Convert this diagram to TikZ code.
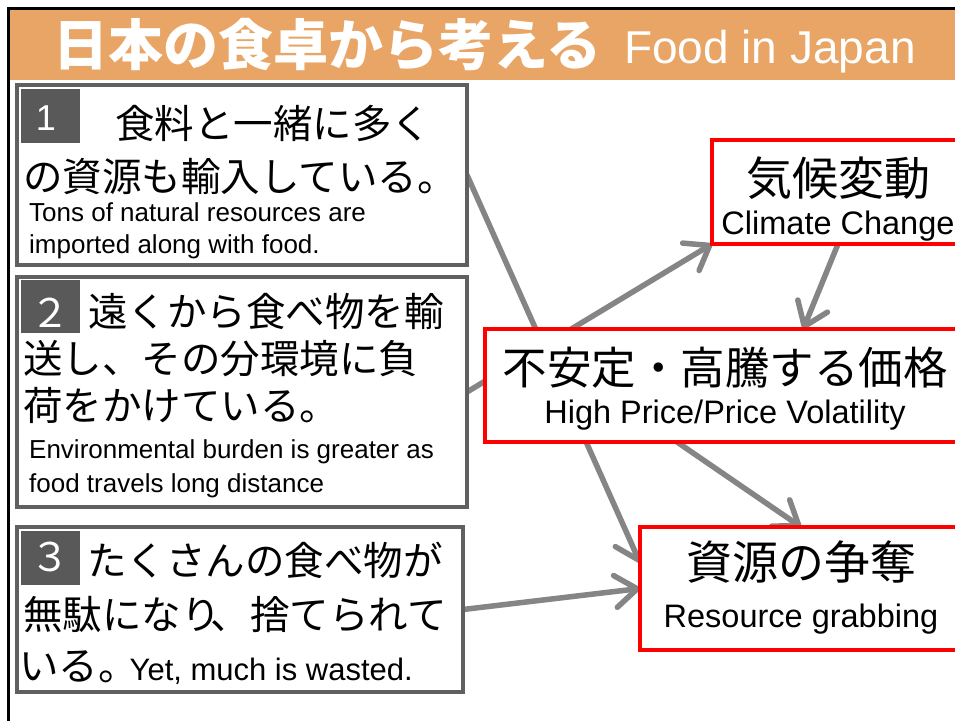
\documentclass[tikz,border=0pt]{standalone}
\usepackage{fontspec}
\setmainfont{Liberation Sans}
\newfontfamily\jp{Noto Sans CJK JP}
\usetikzlibrary{arrows.meta,calc}
\definecolor{bandorange}{HTML}{E8A565}
\definecolor{boxgrey}{HTML}{606060}
\definecolor{numgrey}{HTML}{595959}
\definecolor{arrgrey}{HTML}{858585}
\pgfdeclarelayer{bg}
\pgfdeclarelayer{paper}
\pgfsetlayers{paper,bg,main}
\tikzset{
  leftbox/.style={draw=boxgrey, line width=3.5pt, fill=white, inner sep=0pt, outer sep=0pt, anchor=north west},
  redbox/.style={draw=red, line width=3.5pt, fill=white, inner sep=0pt, outer sep=0pt, anchor=north west},
  numblk/.style={fill=numgrey, inner sep=0pt, outer sep=0pt, anchor=north west},
  numtxt/.style={text=white, inner sep=0pt, anchor=center},
  jtxt/.style={font=\jp\fontsize{39.5}{42}\selectfont, inner sep=0pt, anchor=base west},
  etxt/.style={font=\fontsize{26}{28}\selectfont, inner sep=0pt, anchor=base west},
  rjtxt/.style={font=\jp\fontsize{46}{48}\selectfont, inner sep=0pt, anchor=base},
  retxt/.style={font=\fontsize{32.5}{34}\selectfont, inner sep=0pt, anchor=base},
  flow/.style={draw=arrgrey, line width=5.5pt, -{Straight Barb[round,length=22pt,width=32pt]}}
}
\begin{document}
\begin{tikzpicture}[x=1pt,y=-1pt]
\useasboundingbox (0,0) rectangle (955,720);
\begin{pgfonlayer}{paper}
\fill[white] (0,0) rectangle (955,720);
\end{pgfonlayer}
\clip (0,0) rectangle (955,720);
% header band and frame
\fill[bandorange] (9,9) rectangle (960,80);
\draw[line width=3pt] (8,725) -- (8,8) -- (960,8);
\node[font=\jp\bfseries\fontsize{55}{60}\selectfont, text=white, anchor=base west, inner sep=0pt] (title) at (53,65) {日本の食卓から考える};
\node[font=\fontsize{46}{50}\selectfont, text=white, anchor=base west, inner sep=0pt] (titleen) at (624,63) {Food in Japan};
% left boxes
\node[leftbox, minimum width=450pt, minimum height=180pt] (b1) at (17,85) {};
\node[leftbox, minimum width=450pt, minimum height=230pt] (b2) at (17,277) {};
\node[leftbox, minimum width=446pt, minimum height=165pt] (b3) at (17,527) {};
\node[numblk, minimum width=59pt, minimum height=54pt] (n1) at (21,89) {};
\node[numblk, minimum width=59pt, minimum height=53pt] (n2) at (21,280) {};
\node[numblk, minimum width=59pt, minimum height=54pt] (n3) at (21,531) {};
\node[numtxt, font=\fontsize{36}{38}\selectfont] (n1t) at (46,118) {1};
\node[numtxt, font=\jp\fontsize{39.5}{42}\selectfont] (n2t) at (50,313) {２};
\node[numtxt, font=\jp\fontsize{39.5}{42}\selectfont] (n3t) at (50,557) {３};
% box 1 text
\node[jtxt] (b1l1) at (115,138) {食料と一緒に多く};
\node[jtxt] (b1l2) at (23,191) {の資源も輸入している。};
\node[etxt] (b1l3) at (29,221) {Tons of natural resources are};
\node[etxt] (b1l4) at (29,253) {imported along with food.};
% box 2 text
\node[jtxt] (b2l1) at (88,326) {遠くから食べ物を輸};
\node[jtxt] (b2l2) at (23,373) {送し、その分環境に負};
\node[jtxt] (b2l3) at (23,420) {荷をかけている。};
\node[etxt] (b2l4) at (29,458) {Environmental burden is greater as};
\node[etxt] (b2l5) at (29,492) {food travels long distance};
% box 3 text
\node[jtxt] (b3l1) at (87,575) {たくさんの食べ物が};
\node[jtxt] (b3l2) at (23,629) {無駄になり\hspace{-10pt}、捨てられて};
\node[jtxt] (b3l3) at (19,680) {いる。\hspace{-8pt}{\fontspec{Liberation Sans}\fontsize{31}{33}\selectfont Yet, much is wasted.}};
% right boxes
\node[redbox, minimum width=252pt, minimum height=104pt] (clim) at (712,140) {};
\node[redbox, minimum width=480pt, minimum height=113pt] (price) at (485,329) {};
\node[redbox, minimum width=322pt, minimum height=123pt] (res) at (640,527) {};
\node[rjtxt] (climj) at (838,195) {気候変動};
\node[retxt] (clime) at (838,234) {Climate Change};
\node[rjtxt, font=\jp\fontsize{44.5}{46}\selectfont] (pricej) at (725,384) {不安定・高騰する価格};
\node[retxt] (pricee) at (725,423) {High Price/Price Volatility};
\node[rjtxt] (resj) at (801,579) {資源の争奪};
\node[retxt] (rese) at (801,627) {Resource grabbing};
% connectors
\begin{pgfonlayer}{bg}
\draw[flow] (b1.east) -- ($(res.north west)!0.29!(res.south west)$);
\draw[flow] (b2.east) -- (clim.south west);
\draw[flow] (clim.south) -- ($(price.north west)!0.663!(price.north east)$);
\draw[flow] ($(price.south west)!0.4!(price.south east)$) -- (res.north);
\draw[flow] (b3.east) -- (res.west);
\end{pgfonlayer}
\end{tikzpicture}
\end{document}
